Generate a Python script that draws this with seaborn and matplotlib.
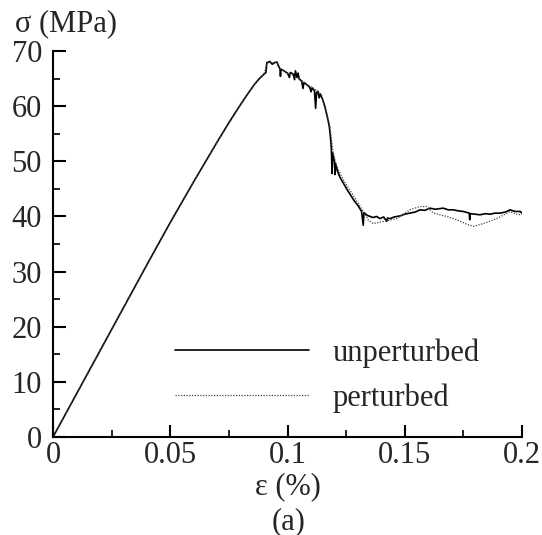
import matplotlib
matplotlib.use("Agg")
import matplotlib.pyplot as plt
import seaborn as sns
import pandas as pd
from matplotlib.ticker import MultipleLocator, FixedLocator

# ---- data ----
strain_unpert = [0, 0.01, 0.02, 0.03, 0.04, 0.05, 0.055, 0.06, 0.065, 0.07, 0.075, 0.08, 0.083, 0.086,
                 0.088, 0.0900, 0.0908, 0.0912, 0.0925, 0.0935, 0.0945, 0.0955, 0.0962, 0.0968, 0.0970,
                 0.0972, 0.0985, 0.1000, 0.1008, 0.1012, 0.1025, 0.1030, 0.1034, 0.1040, 0.1045, 0.1050,
                 0.1060, 0.1066, 0.1070, 0.1085, 0.1095, 0.1100, 0.1105, 0.1115, 0.1120, 0.1124, 0.1130,
                 0.1135, 0.1140, 0.1150, 0.1160, 0.1170, 0.1178, 0.1183, 0.1187, 0.1190, 0.1193, 0.1200,
                 0.1203, 0.1206, 0.1215, 0.1225, 0.1240, 0.1255, 0.1270, 0.1285, 0.1300, 0.1316, 0.1323,
                 0.1326, 0.1340, 0.1352, 0.1365, 0.1380, 0.1394, 0.1410, 0.1423, 0.1426, 0.1437, 0.1455,
                 0.1480, 0.1500, 0.1522, 0.1545, 0.1565, 0.1585, 0.1608, 0.1630, 0.1664, 0.1685, 0.1707,
                 0.1730, 0.1750, 0.1775, 0.1777, 0.1779, 0.1800, 0.1821, 0.1845, 0.1864, 0.1885, 0.1906,
                 0.1930, 0.1949, 0.1970, 0.1992, 0.2000]
stress_unpert = [0, 7.8, 15.6, 23.4, 31.2, 38.9, 42.6, 46.3, 49.9, 53.5, 57.0, 60.3, 62.2, 64.0,
                 65.0, 65.8, 66.1, 67.9, 68.1, 67.6, 67.9, 68.0, 67.2, 66.8, 65.4,
                 66.7, 66.4, 66.0, 65.2, 66.1, 65.8, 64.8, 66.4, 65.2, 66.0, 64.9,
                 64.6, 63.2, 64.3, 63.8, 63.4, 62.6, 63.3, 62.8, 59.6, 62.5, 62.7,
                 61.5, 62.2, 61.2, 59.8, 58.0, 56.4, 54.5, 52.3, 47.8, 51.5, 50.0,
                 47.6, 49.5, 48.0, 47.0, 45.9, 44.8, 43.8, 42.8, 42.0, 40.9, 38.4,
                 40.7, 40.2, 40.0, 39.8, 40.0, 39.6, 39.9, 39.1, 39.7, 39.6, 39.9,
                 40.1, 40.4, 40.6, 40.8, 41.2, 41.1, 41.5, 41.3, 41.5, 41.2, 41.2,
                 41.0, 40.9, 40.6, 39.4, 40.5, 40.4, 40.3, 40.5, 40.4, 40.6, 40.6,
                 40.8, 41.2, 40.9, 40.9, 40.6]

strain_pert = [0, 0.02, 0.04, 0.05, 0.06, 0.07, 0.08, 0.086, 0.09, 0.0912, 0.0955, 0.097, 0.100,
               0.104, 0.108, 0.112, 0.1145, 0.116, 0.118, 0.1195, 0.121, 0.124, 0.127, 0.130, 0.1325,
               0.1345, 0.1366, 0.141, 0.1466, 0.1522, 0.1565, 0.1594, 0.1622, 0.1679, 0.1721, 0.1764,
               0.1793, 0.1835, 0.1892, 0.1949, 0.1975, 0.2000]
stress_pert = [0, 15.6, 31.2, 38.9, 46.3, 53.5, 60.3, 64.0, 65.8, 67.8, 67.9, 66.8, 66.0,
               65.3, 64.0, 63.0, 62.0, 60.0, 56.5, 51.5, 49.0, 46.5, 44.5, 42.5, 40.8,
               39.3, 38.7, 39.1, 39.6, 41.2, 41.8, 41.8, 40.6, 40.0, 39.4, 38.6,
               38.2, 38.7, 39.6, 40.9, 40.4, 40.3]

x_ticks = [0, 0.05, 0.1, 0.15, 0.2]
x_tick_labels = ["0", "0.05", "0.1", "0.15", "0.2"]
y_ticks = [0, 10, 20, 30, 40, 50, 60, 70]
y_tick_labels = ["0", "10", "20", "30", "40", "50", "60", "70"]

# ---- style ----
sns.set_style("ticks")
plt.rcParams['font.family'] = ['Liberation Serif', 'DejaVu Serif']
FS = 22

fig = plt.figure(figsize=(5.42, 5.35), dpi=100)
ax = fig.add_axes([53/542, 1-437/535, 469/542, 386/535])

df_u = pd.DataFrame({"strain": strain_unpert, "stress": stress_unpert})
df_p = pd.DataFrame({"strain": strain_pert, "stress": stress_pert})

sns.lineplot(data=df_u, x="strain", y="stress", ax=ax, estimator=None, sort=False,
             color="black", linewidth=1.2, label="unperturbed")
sns.lineplot(data=df_p, x="strain", y="stress", ax=ax, estimator=None, sort=False,
             color="#444444", linewidth=0.9, dashes=False, label="perturbed")
ax.lines[1].set_linestyle((0, (1, 1.2)))

ax.set_xlim(0, 0.2)
ax.set_ylim(0, 70)
ax.xaxis.set_major_locator(FixedLocator(x_ticks))
ax.set_xticklabels(x_tick_labels)
ax.yaxis.set_major_locator(FixedLocator(y_ticks))
ax.set_yticklabels(y_tick_labels)
ax.xaxis.set_minor_locator(MultipleLocator(0.025))
ax.yaxis.set_minor_locator(MultipleLocator(5))

for s in ["top", "right"]:
    ax.spines[s].set_visible(False)
for s in ["left", "bottom"]:
    ax.spines[s].set_linewidth(1.5)
    ax.spines[s].set_color("black")

ax.tick_params(which="major", direction="in", length=9, width=1.5, labelsize=FS, color="black")
ax.tick_params(which="minor", direction="in", length=5, width=1.2, color="black")
ax.tick_params(axis="x", pad=3)
ax.tick_params(axis="y", pad=8)

ax.set_xlabel("ε (%)", fontsize=FS)
ax.xaxis.set_label_coords(0.5, -0.128)
ax.xaxis.label.set_va("center")
ax.set_ylabel("σ (MPa)", fontsize=FS, rotation=0)
ax.yaxis.set_label_coords((15-53)/469, (437-24)/386)
ax.yaxis.label.set_ha("left")
ax.yaxis.label.set_va("center")

leg = ax.legend(loc="upper left", bbox_to_anchor=((175-53)/469, 0.255), frameon=False,
                fontsize=FS, handlelength=4.4, handletextpad=0.75, borderpad=0,
                borderaxespad=0, labelspacing=0.5)
leg.get_lines()[1].set_linestyle((0, (1, 1.2)))

fig.text(289/542, 1-522/535, "(a)", ha="center", va="center", fontsize=FS)

fig.savefig("out.png", dpi=100, facecolor="white")
